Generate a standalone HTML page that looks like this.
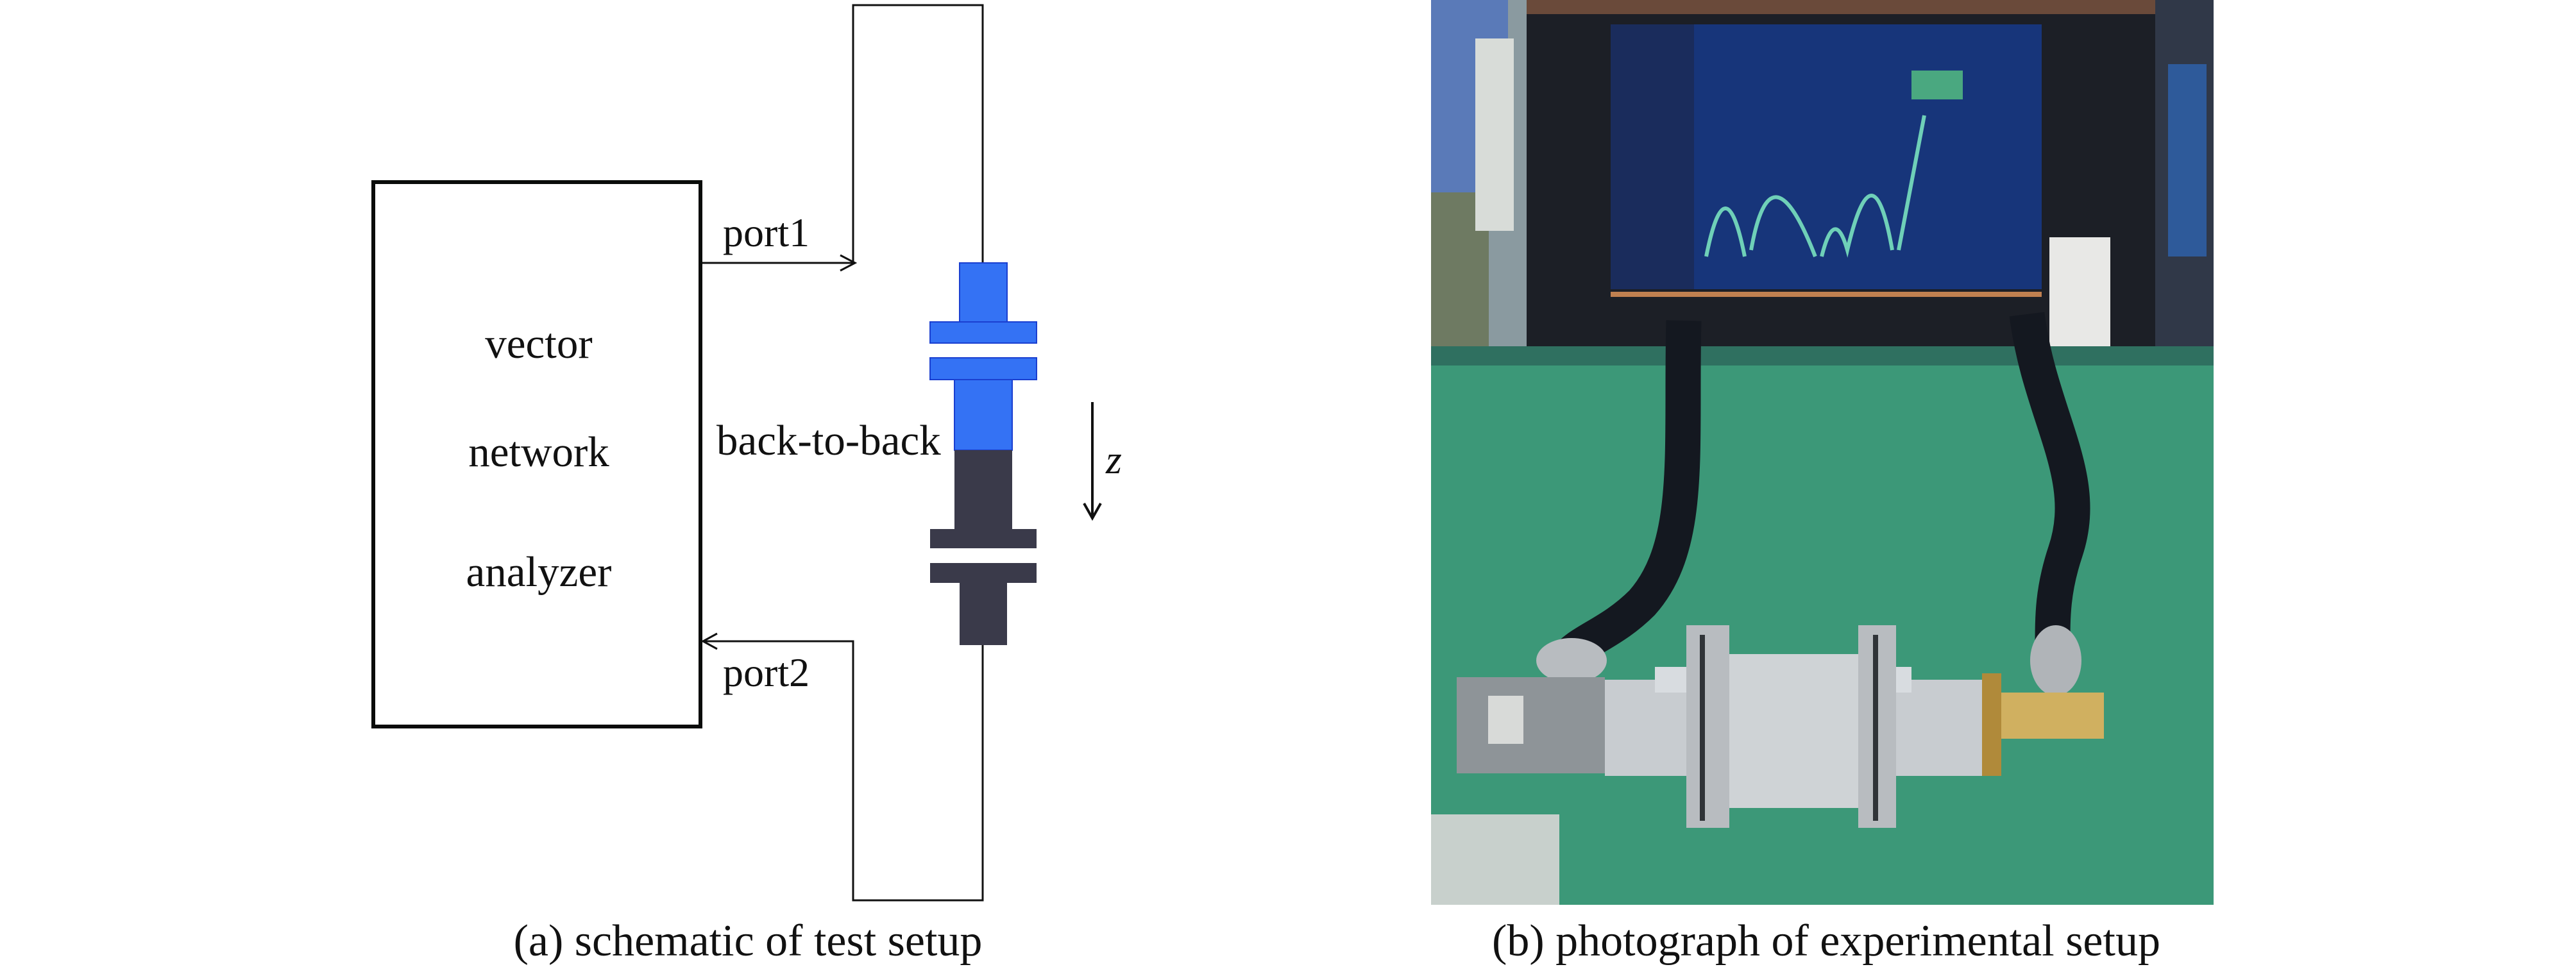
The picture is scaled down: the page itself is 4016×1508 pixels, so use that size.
<!DOCTYPE html>
<html><head><meta charset="utf-8"><style>
html,body{margin:0;padding:0;background:#fff;}
svg{display:block;}
text{font-family:"Liberation Serif",serif;fill:#111;}
</style></head><body>
<svg width="4016" height="1508" viewBox="0 0 4016 1508" xmlns="http://www.w3.org/2000/svg">
<rect x="582" y="284" width="510" height="849" fill="none" stroke="#0a0c0a" stroke-width="6"/>
<text x="840" y="558" font-size="67" text-anchor="middle">vector</text>
<text x="840" y="727" font-size="67" text-anchor="middle">network</text>
<text x="840" y="914" font-size="67" text-anchor="middle">analyzer</text>
<text x="1127" y="384" font-size="64">port1</text>
<text x="1127" y="1070" font-size="64">port2</text>
<text x="1117" y="709" font-size="67">back-to-back</text>
<text x="1724" y="738" font-size="64" font-style="italic">z</text>
<polyline points="1095,410 1332,410" fill="none" stroke="#111" stroke-width="3"/>
<polyline points="1310,398 1333,410 1310,422" fill="none" stroke="#111" stroke-width="3"/>
<polyline points="1330,410 1330,8 1532,8 1532,410" fill="none" stroke="#111" stroke-width="3"/>
<polyline points="1532,1006 1532,1404 1330,1404 1330,1000 1095,1000" fill="none" stroke="#111" stroke-width="3"/>
<polyline points="1118,988 1096,1000 1118,1012" fill="none" stroke="#111" stroke-width="3"/>
<line x1="1703" y1="627" x2="1703" y2="806" stroke="#111" stroke-width="4"/>
<polyline points="1690,785 1703,808 1716,785" fill="none" stroke="#111" stroke-width="4"/>
<g fill="#3472f4" stroke="#1a3fd0" stroke-width="2">
<rect x="1496" y="410" width="74" height="92"/>
<rect x="1450" y="502" width="166" height="33"/>
<rect x="1450" y="558" width="166" height="34"/>
<rect x="1488" y="592" width="90" height="110"/>
</g>
<g fill="#3a3a4a">
<rect x="1488" y="702" width="90" height="123"/>
<rect x="1450" y="825" width="166" height="30"/>
<rect x="1450" y="878" width="166" height="31"/>
<rect x="1496" y="909" width="74" height="97"/>
</g>
<text x="1166" y="1490" font-size="70" text-anchor="middle">(a) schematic of test setup</text>
<text x="2847" y="1490" font-size="70" text-anchor="middle">(b) photograph of experimental setup</text>
<g>
<rect x="2231" y="0" width="1220" height="1411" fill="#3c9878"/>
<rect x="2231" y="0" width="200" height="560" fill="#8a9aa0"/>
<rect x="2231" y="0" width="120" height="300" fill="#5a7ab8"/>
<rect x="2231" y="300" width="90" height="260" fill="#6e7a62"/>
<rect x="2300" y="60" width="60" height="300" fill="#d8dcd8"/>
<rect x="3340" y="0" width="111" height="560" fill="#303848"/>
<rect x="3380" y="100" width="60" height="300" fill="#2e5a9a"/>
<rect x="2231" y="540" width="1220" height="30" fill="#2f7060"/>
<rect x="2380" y="0" width="980" height="540" fill="#1c1f26"/>
<rect x="2380" y="0" width="980" height="22" fill="#6a4a3a"/>
<rect x="2511" y="38" width="672" height="413" fill="#17357a"/>
<rect x="2511" y="38" width="130" height="413" fill="#1a2c5c"/>
<rect x="2511" y="455" width="672" height="8" fill="#c08050"/>
<path d="M2660 400 Q2690 250 2720 400 M2730 390 Q2760 220 2830 400 M2840 400 Q2860 320 2880 390 Q2920 220 2950 390 M2960 390 L3000 180" fill="none" stroke="#6fd0b8" stroke-width="6"/>
<rect x="2980" y="110" width="80" height="45" fill="#4aa880"/>
<rect x="3195" y="370" width="95" height="170" fill="#e8e8e6"/>
<path d="M2625 500 C2620 700 2640 850 2560 940 C2510 990 2460 1000 2440 1030" fill="none" stroke="#141820" stroke-width="55"/>
<path d="M3160 490 C3180 650 3260 740 3220 860 C3200 920 3200 960 3200 1010" fill="none" stroke="#141820" stroke-width="55"/>
<ellipse cx="2450" cy="1030" rx="55" ry="35" fill="#b8bcc0"/>
<ellipse cx="3205" cy="1030" rx="40" ry="55" fill="#b0b4b8"/>
<rect x="2271" y="1056" width="231" height="150" fill="#8e9498"/>
<rect x="2320" y="1085" width="55" height="75" fill="#d8dad8"/>
<rect x="2502" y="1060" width="614" height="150" fill="#c8ccd0"/>
<rect x="2580" y="1040" width="400" height="40" fill="#d8dce0"/>
<rect x="2629" y="975" width="67" height="316" fill="#b8bcc0"/>
<rect x="2897" y="975" width="59" height="316" fill="#b8bcc0"/>
<rect x="2696" y="1020" width="201" height="240" fill="#cfd3d6"/>
<rect x="2650" y="990" width="8" height="290" fill="#303438"/>
<rect x="2920" y="990" width="8" height="290" fill="#303438"/>
<rect x="3090" y="1050" width="30" height="160" fill="#b08a3a"/>
<rect x="3120" y="1080" width="160" height="72" fill="#d0b060"/>
<rect x="2231" y="1270" width="200" height="141" fill="#c8d0cc"/>
</g>
</svg>
</body></html>
